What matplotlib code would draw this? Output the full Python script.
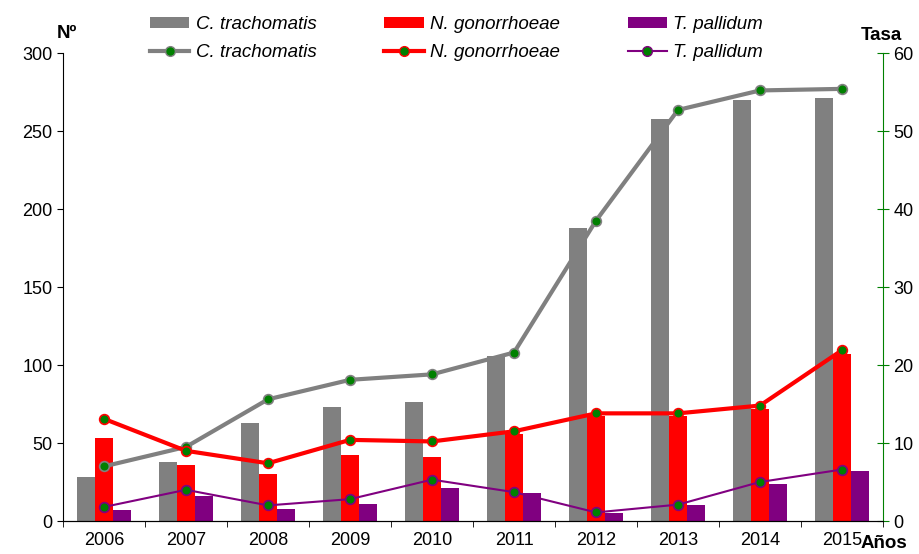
import numpy as np
import matplotlib
matplotlib.use('Agg')
import matplotlib.pyplot as plt
from matplotlib.patches import Patch
from matplotlib.lines import Line2D

plt.rcParams['font.family'] = ['Liberation Sans', 'DejaVu Sans']

years = ['2006', '2007', '2008', '2009', '2010', '2011', '2012', '2013', '2014', '2015']

# number of cases (left axis)
ct_cases = [28, 38, 63, 73, 76, 106, 188, 258, 270, 271]
ng_cases = [53, 36, 30, 42, 41, 56, 67, 67, 72, 107]
tp_cases = [7, 16, 8, 11, 21, 18, 5, 10, 24, 32]

# rates (right axis)
ct_rate = [7.0, 9.5, 15.6, 18.1, 18.8, 21.6, 38.5, 52.7, 55.2, 55.4]
ng_rate = [13.1, 9.0, 7.4, 10.4, 10.2, 11.5, 13.8, 13.8, 14.8, 21.9]
tp_rate = [1.8, 4.0, 2.0, 2.8, 5.3, 3.7, 1.1, 2.1, 5.0, 6.6]

names = ['C. trachomatis', 'N. gonorrhoeae', 'T. pallidum']
colors = ['#808080', '#ff0000', '#800080']
line_w = [3, 3, 1.5]

fig = plt.figure(figsize=(9.2, 5.54), dpi=100)
ax = fig.add_axes([63 / 920, 33 / 554, 820 / 920, 468 / 554])
x = np.arange(len(years))
bw = 0.22

for off, vals, c in zip([-bw, 0, bw], [ct_cases, ng_cases, tp_cases], colors):
    ax.bar(x + off, vals, width=bw, color=c, zorder=2)

ax.set_xlim(-0.5, len(years) - 0.5)
ax.set_ylim(0, 300)
ax.set_yticks(range(0, 301, 50))
ax.set_xticks(x)
ax.set_xticklabels(years)
ax.set_xticks(np.arange(-0.5, len(years), 1), minor=True)
ax.tick_params(axis='x', which='major', length=0, labelsize=13, pad=8)
ax.tick_params(axis='x', which='minor', length=4, direction='out')
ax.tick_params(axis='y', labelsize=13, length=4, direction='out')
ax.spines['top'].set_visible(False)
ax.spines['right'].set_visible(False)

ax2 = ax.twinx()
for vals, c, lw in zip([ct_rate, ng_rate, tp_rate], colors, line_w):
    ax2.plot(x, vals, color=c, lw=lw, marker='o', markersize=7,
             markerfacecolor='#008000', markeredgecolor=c, markeredgewidth=1.2)
ax2.set_ylim(0, 60)
ax2.set_yticks(range(0, 61, 10))
ax2.tick_params(axis='y', labelsize=13, length=8, direction='inout', color='green')
ax2.spines['right'].set_color('green')
ax2.spines['top'].set_visible(False)
ax2.spines['left'].set_visible(False)

handles = []
for n, c, lw in zip(names, colors, line_w):
    handles.append(Patch(facecolor=c, label=n))
    handles.append(Line2D([], [], color=c, lw=lw, marker='o', markersize=7,
                          markerfacecolor='#008000', markeredgecolor=c, label=n))
leg = fig.legend(handles=handles, ncol=3, loc='upper left',
                 bbox_to_anchor=(150 / 920, 1 - 16 / 554), frameon=False,
                 prop={'style': 'italic', 'size': 13.5}, handlelength=2.1,
                 handleheight=0.5, handletextpad=0.35, columnspacing=3.6,
                 labelspacing=0.6, borderpad=0, borderaxespad=0)

fig.text(67 / 920, 1 - 33 / 554, 'Nº', fontsize=13.5, fontweight='bold', ha='center', va='center')
fig.text(881 / 920, 1 - 35 / 554, 'Tasa', fontsize=13.5, fontweight='bold', ha='center', va='center')
fig.text(884 / 920, 1 - 544 / 554, 'Años', fontsize=13.5, fontweight='bold', ha='center', va='center')

fig.savefig('out.png', dpi=100)
